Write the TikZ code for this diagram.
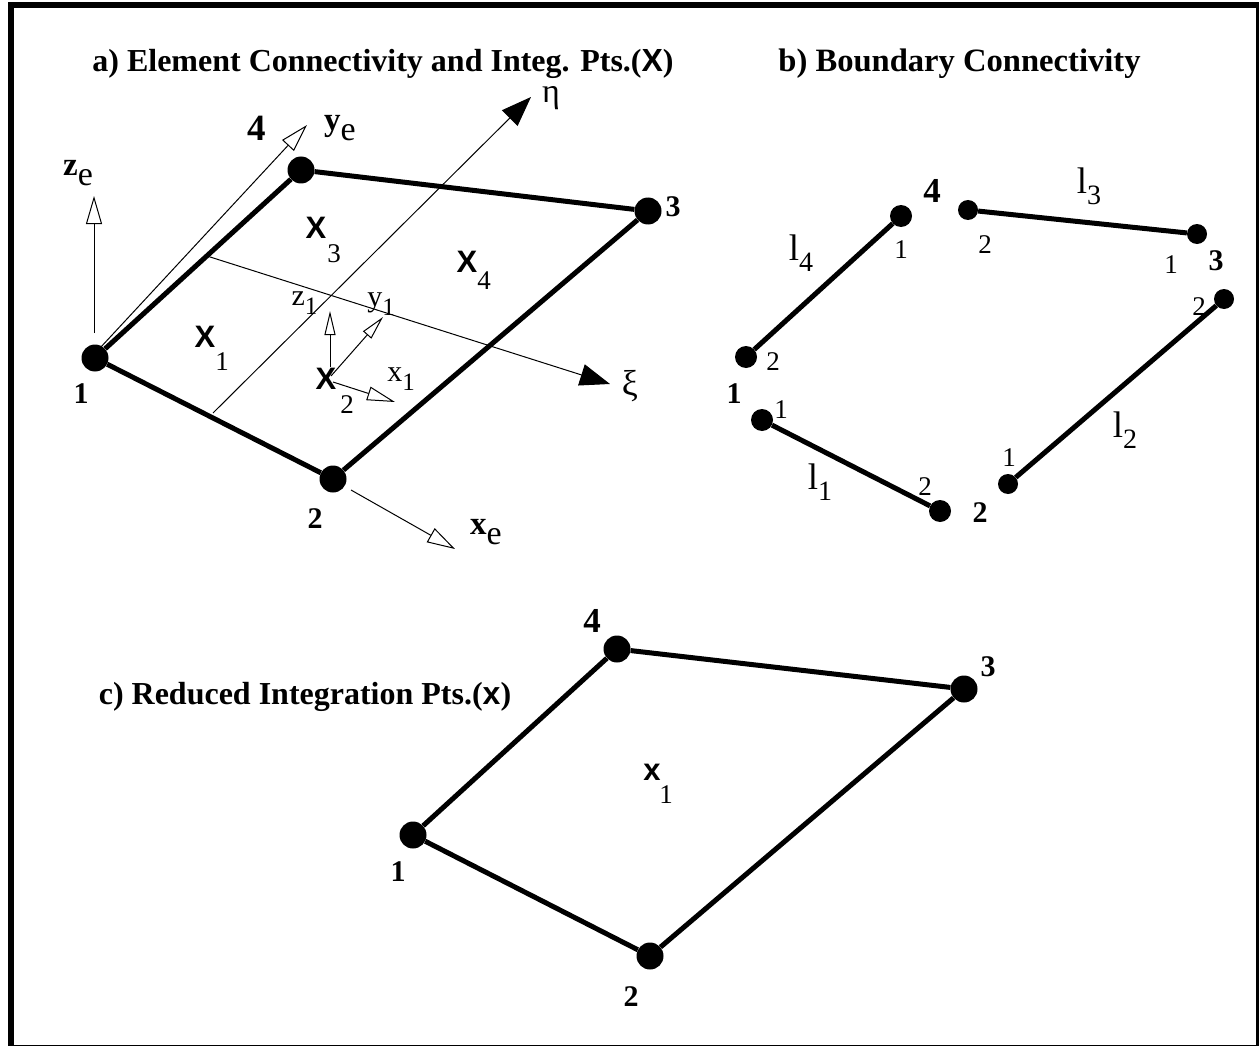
\documentclass[tikz,border=0pt]{standalone}
\usepackage{fontspec}
\setmainfont{Liberation Serif}
\newfontfamily\helv{Liberation Sans}
\usetikzlibrary{arrows.meta}
\newcommand{\fsz}[1]{\fontsize{#1}{#1}\selectfont}
\newcommand{\sbs}[3]{#1\raisebox{-0.3em}{\fsz{#3}\normalfont #2}}
\tikzset{
    dotbig/.style={circle, fill=black, inner sep=0pt, minimum size=27pt},
    dotend/.style={circle, fill=black, inner sep=0pt, minimum size=22pt},
    dotsmall/.style={circle, fill=black, inner sep=0pt, minimum size=20pt},
    edgeline/.style={line width=5pt},
    axisline/.style={line width=1pt},
    openhead/.style={axisline, -{Triangle[open, fill=white, length=28pt, width=16pt]}},
    smallhead/.style={axisline, -{Triangle[open, fill=white, length=24pt, width=11pt]}},
    solidhead/.style={axisline, -{Triangle[length=30pt, width=22pt]}},
    titletext/.style={font=\fsz{32}\bfseries, inner sep=0pt},
    numtext/.style={font=\fsz{30}\bfseries, inner sep=0pt},
    numlarge/.style={font=\fsz{37}\bfseries, inner sep=0pt},
    labeltext/.style={font=\fsz{33}, inner sep=0pt},
    axistext/.style={font=\fsz{30}, inner sep=0pt},
    elltext/.style={font=\fsz{37}, inner sep=0pt},
    smalltext/.style={font=\fsz{27}, inner sep=0pt},
    ptmark/.style={font=\fsz{31}\helv\bfseries, inner sep=0pt},
}
\begin{document}
\begin{tikzpicture}[x=1pt, y=-1pt]
    \useasboundingbox (0,0) rectangle (1259,1046);
    \node[draw, line width=6pt, minimum width=1248pt, minimum height=1042.8pt, inner sep=0pt] (frame) at (635,526.6) {};

    % a) element
    \node[titletext] (titlea) at (383,63.5) {a) Element Connectivity and Integ. Pts.({\helv X})};
    \node[dotbig] (a1) at (95,358) {};
    \node[dotbig] (a2) at (333,479) {};
    \node[dotbig] (a3) at (648,211) {};
    \node[dotbig] (a4) at (301,170) {};
    \draw[edgeline] (a1) -- (a2);
    \draw[edgeline] (a2) -- (a3);
    \draw[edgeline] (a3) -- (a4);
    \draw[edgeline] (a4) -- (a1);
    \node[numtext] (na1) at (81,394) {1};
    \node[numtext] (na2) at (315,519) {2};
    \node[numtext] (na3) at (673,207) {3};
    \node[numlarge] (na4) at (257,128) {4};

    \coordinate (zestart) at (94,333);
    \coordinate (zeend) at (94,196);
    \coordinate (yestart) at (100,348);
    \coordinate (yeend) at (307,125);
    \coordinate (xestart) at (351,490);
    \coordinate (xeend) at (455,549);
    \coordinate (etastart) at (213,413);
    \coordinate (etaend) at (531,97);
    \coordinate (xistart) at (207,256);
    \coordinate (xiend) at (610,384);
    \draw[openhead] (zestart) -- (zeend);
    \draw[openhead] (yestart) -- (yeend);
    \draw[openhead] (xestart) -- (xeend);
    \draw[solidhead] (etastart) -- (etaend);
    \draw[solidhead] (xistart) -- (xiend);
    \node[labeltext] (lze) at (78,173) {\sbs{\textbf{z}}{e}{34}};
    \node[labeltext] (lye) at (340,128) {\sbs{\textbf{y}}{e}{34}};
    \node[labeltext] (lxe) at (486,532) {\sbs{\textbf{x}}{e}{34}};
    \node[font=\fsz{34}, inner sep=0pt] (leta) at (551,98) {η};
    \node[font=\fsz{36}, inner sep=0pt] (lxi) at (630,386) {ξ};

    \node[ptmark] (xa1) at (205,337) {X};
    \node[smalltext] (sa1) at (222,362) {1};
    \node[ptmark] (xa3) at (316,228) {X};
    \node[smalltext] (sa3) at (334,254) {3};
    \node[ptmark] (xa4) at (467,262) {X};
    \node[smalltext] (sa4) at (484,281) {4};
    \node[ptmark] (xa2) at (326,379) {X};
    \node[smalltext] (sa2) at (347,405) {2};

    \coordinate (zlstart) at (330,367);
    \coordinate (zlend) at (330,311);
    \coordinate (ylstart) at (331,376);
    \coordinate (ylend) at (383,317);
    \coordinate (xlstart) at (333,382);
    \coordinate (xlend) at (395,402);
    \draw[smallhead] (zlstart) -- (zlend);
    \draw[smallhead] (ylstart) -- (ylend);
    \draw[openhead, -{Triangle[open, fill=white, length=28pt, width=14pt]}] (xlstart) -- (xlend);
    \node[axistext] (lzl) at (304.5,303.5) {\sbs{z}{1}{25}};
    \node[axistext] (lyl) at (381,304) {\sbs{y}{1}{25}};
    \node[axistext] (lxl) at (401,379.5) {\sbs{x}{1}{25}};

    % b) boundary
    \node[titletext, font=\fsz{32.6}\bfseries] (titleb) at (959.5,63.5) {b) Boundary Connectivity};
    \node[dotend] (b41) at (901,216) {};
    \node[dotend] (b42) at (746,357) {};
    \node[dotsmall] (b32) at (968,210) {};
    \node[dotsmall] (b31) at (1197,234) {};
    \node[dotsmall] (b22) at (1224,299) {};
    \node[dotsmall] (b21) at (1008,484) {};
    \node[dotend] (b11) at (762,420) {};
    \node[dotend] (b12) at (940,511) {};
    \draw[edgeline] (b41) -- (b42);
    \draw[edgeline] (b32) -- (b31);
    \draw[edgeline] (b22) -- (b21);
    \draw[edgeline] (b11) -- (b12);
    \node[numtext] (nb1) at (734,394) {1};
    \node[numtext] (nb2) at (980,513) {2};
    \node[numtext] (nb3) at (1216,261) {3};
    \node[numlarge, font=\fsz{35}\bfseries] (nb4) at (932,191) {4};
    \node[elltext] (ll4) at (801,253) {\sbs{l}{4}{28}};
    \node[elltext] (ll3) at (1089,186) {\sbs{l}{3}{28}};
    \node[elltext] (ll2) at (1125,430) {\sbs{l}{2}{28}};
    \node[elltext] (ll1) at (820,482) {\sbs{l}{1}{28}};
    \node[smalltext] (e41) at (901,250) {1};
    \node[smalltext] (e42) at (773,362) {2};
    \node[smalltext] (e32) at (985,245) {2};
    \node[smalltext] (e31) at (1171,265) {1};
    \node[smalltext] (e22) at (1199,307) {2};
    \node[smalltext] (e21) at (1009,458) {1};
    \node[smalltext] (e11) at (781,410) {1};
    \node[smalltext] (e12) at (925,487) {2};

    % c) reduced
    \node[titletext] (titlec) at (305,697) {c) Reduced Integration Pts.({\helv\bfseries x})};
    \node[dotbig] (c1) at (413,835) {};
    \node[dotbig] (c2) at (650,956) {};
    \node[dotbig] (c3) at (964,689) {};
    \node[dotbig] (c4) at (617,649) {};
    \draw[edgeline] (c1) -- (c2);
    \draw[edgeline] (c2) -- (c3);
    \draw[edgeline] (c3) -- (c4);
    \draw[edgeline] (c4) -- (c1);
    \node[numtext] (nc1) at (398,872) {1};
    \node[numtext] (nc2) at (631,997) {2};
    \node[numtext] (nc3) at (988,667) {3};
    \node[numlarge, font=\fsz{35}\bfseries] (nc4) at (592,621) {4};
    \node[ptmark] (xc1) at (652,772) {x};
    \node[smalltext] (sc1) at (666,795) {1};
\end{tikzpicture}
\end{document}
